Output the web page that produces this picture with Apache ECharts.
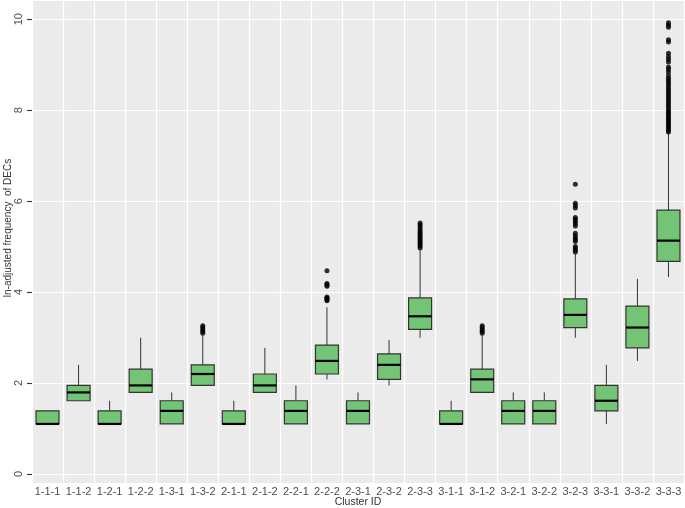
<!DOCTYPE html>
<html>
<head>
<meta charset="utf-8">
<script src="https://cdn.jsdelivr.net/npm/echarts@6/dist/echarts.min.js"></script>
<style>
  html, body { margin: 0; padding: 0; background: #fff; }
  #chart { width: 685px; height: 508px; }
</style>
</head>
<body>
<div id="chart"></div>
<script>
// cluster ids on the x axis
const categories = ['1-1-1', '1-1-2', '1-2-1', '1-2-2', '1-3-1', '1-3-2', '2-1-1', '2-1-2', '2-2-1', '2-2-2',
  '2-3-1', '2-3-2', '2-3-3', '3-1-1', '3-1-2', '3-2-1', '3-2-2', '3-2-3', '3-3-1', '3-3-2', '3-3-3'];

// box statistics (ln-adjusted)
const lowWhisker = [1.099, 1.609, 1.099, 1.792, 1.099, 1.946, 1.099, 1.792, 1.099, 2.079,
  1.099, 1.946, 2.996, 1.099, 1.792, 1.099, 1.099, 2.996, 1.099, 2.485, 4.33];
const q1 = [1.099, 1.609, 1.099, 1.792, 1.099, 1.946, 1.099, 1.792, 1.099, 2.197,
  1.099, 2.079, 3.178, 1.099, 1.792, 1.099, 1.099, 3.219, 1.386, 2.773, 4.673];
const median = [1.099, 1.792, 1.099, 1.946, 1.386, 2.197, 1.099, 1.946, 1.386, 2.485,
  1.386, 2.398, 3.466, 1.099, 2.079, 1.386, 1.386, 3.497, 1.609, 3.219, 5.13];
const q3 = [1.386, 1.946, 1.386, 2.303, 1.609, 2.398, 1.386, 2.197, 1.609, 2.833,
  1.609, 2.639, 3.871, 1.386, 2.303, 1.609, 1.609, 3.85, 1.946, 3.689, 5.80];
const highWhisker = [1.386, 2.398, 1.609, 2.996, 1.792, 3.045, 1.609, 2.773, 1.946, 3.664,
  1.792, 2.944, 4.92, 1.609, 3.045, 1.792, 1.792, 4.84, 2.398, 4.29, 7.49];

// outliers per cluster (same order as categories)
const outliers = [[], [], [], [], [],
  [3.091, 3.135, 3.178, 3.219, 3.258],
  [], [], [],
  [3.807, 3.829, 3.850, 3.871, 3.892, 4.127, 4.159, 4.190, 4.466],
  [], [],
  [4.97, 5.01, 5.05, 5.09, 5.13, 5.17, 5.21, 5.25, 5.29, 5.33, 5.38, 5.43, 5.48, 5.52],
  [],
  [3.091, 3.135, 3.178, 3.219, 3.258],
  [], [],
  [4.88, 4.92, 4.96, 5.0, 5.11, 5.15, 5.19, 5.24, 5.29, 5.45, 5.5, 5.55, 5.6, 5.64, 5.85, 5.9, 5.95, 6.37],
  [], [],
  [7.52, 7.56, 7.6, 7.64, 7.68, 7.72, 7.76, 7.8, 7.84, 7.88, 7.92, 7.96, 8.0, 8.05, 8.1, 8.15, 8.2,
    8.25, 8.3, 8.35, 8.4, 8.45, 8.5, 8.55, 8.6, 8.65, 8.7, 8.76, 8.84, 8.9, 8.95, 9.06, 9.12, 9.18,
    9.25, 9.5, 9.55, 9.82, 9.87, 9.92]
];

const yTicks = [0, 2, 4, 6, 8, 10];

const boxData = categories.map((c, i) => [i, lowWhisker[i], q1[i], median[i], q3[i], highWhisker[i]]);
const outlierData = [];
outliers.forEach((list, i) => list.forEach(v => outlierData.push([i, v])));

const FONT = 'Liberation Sans';

const chart = echarts.init(document.getElementById('chart'));

chart.setOption({
  animation: false,
  grid: {
    left: 32, right: 1, top: 1, bottom: 25,
    outerBoundsMode: 'none',
    containLabel: false,
    show: true, backgroundColor: '#EBEBEB', borderWidth: 0
  },
  xAxis: {
    type: 'category',
    data: categories,
    boundaryGap: true,
    name: 'Cluster ID',
    nameLocation: 'middle',
    nameGap: 14,
    nameMoveOverlap: false,
    nameTextStyle: { fontFamily: FONT, fontSize: 10.5, color: '#333' },
    axisLine: { show: false },
    axisTick: { show: false },
    axisLabel: { fontFamily: FONT, fontSize: 11, color: '#4D4D4D', margin: 3, interval: 0 },
    splitLine: { show: true, interval: 0, lineStyle: { color: '#fff', width: 1.2 } }
  },
  yAxis: {
    type: 'value',
    min: -0.2,
    max: 10.4,
    name: 'ln-adjusted frequency  of DECs',
    nameLocation: 'middle',
    nameRotate: 90,
    nameGap: 19,
    nameMoveOverlap: false,
    nameTextStyle: { fontFamily: FONT, fontSize: 10, color: '#333', padding: [0, 0, 0, 28] },
    axisLine: { show: true, lineStyle: { color: 'rgba(0,0,0,0)' } },
    axisTick: { show: true, length: 5, customValues: yTicks, lineStyle: { color: '#333', width: 1.1 } },
    axisLabel: { fontFamily: FONT, fontSize: 11, color: '#4D4D4D', rotate: 90, margin: 8, customValues: yTicks },
    splitLine: { show: true, lineStyle: { color: '#fff', width: 1.2 } }
  },
  series: [
    {
      type: 'custom',
      data: boxData,
      encode: { x: 0, y: [1, 2, 3, 4, 5] },
      renderItem: function (params, api) {
        const i = api.value(0);
        const lo = api.coord([i, api.value(1)]);
        const b1 = api.coord([i, api.value(2)]);
        const md = api.coord([i, api.value(3)]);
        const b3 = api.coord([i, api.value(4)]);
        const hi = api.coord([i, api.value(5)]);
        const w = api.size([1, 0])[0] * 0.74;
        const x = lo[0];
        return {
          type: 'group',
          children: [
            { type: 'line', shape: { x1: x, y1: lo[1], x2: x, y2: b1[1] }, style: { stroke: '#333', lineWidth: 1 } },
            { type: 'line', shape: { x1: x, y1: b3[1], x2: x, y2: hi[1] }, style: { stroke: '#333', lineWidth: 1 } },
            {
              type: 'rect',
              shape: { x: x - w / 2, y: b3[1], width: w, height: b1[1] - b3[1] },
              style: { fill: '#74C476', stroke: '#333', lineWidth: 1.2 }
            },
            { type: 'line', shape: { x1: x - w / 2, y1: md[1], x2: x + w / 2, y2: md[1] }, style: { stroke: '#000', lineWidth: 2.2 } }
          ]
        };
      }
    },
    {
      type: 'scatter',
      data: outlierData,
      symbol: 'circle',
      symbolSize: 5,
      itemStyle: { color: '#000' }
    }
  ]
});
</script>
</body>
</html>
